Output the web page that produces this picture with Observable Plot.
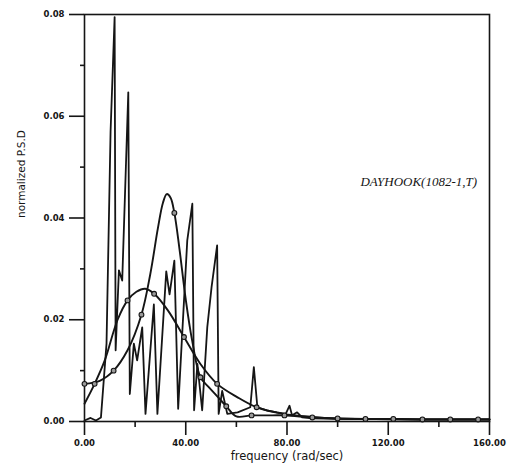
<!DOCTYPE html>
<html><head><meta charset="utf-8">
<script src="https://cdn.jsdelivr.net/npm/d3@7"></script>
<script src="https://cdn.jsdelivr.net/npm/@observablehq/plot@0.6"></script>
<style>body{margin:0;background:#fff}</style>
</head><body><div id="chart"></div>
<script>
// Raw (spiky) PSD
const spikyX = [0, 2.4, 4.5, 6.5, 8.7, 10.3, 11.9, 12.3, 13.6, 14.9, 17.3, 17.9, 19.5, 20.8, 22.8, 24.1, 27.4, 28.8, 32.3, 33.6, 35.5, 37.0, 40.6, 42.6, 43.3, 44.6, 46.5, 48.5, 50.2, 52.4, 53.0, 54.4, 56.4, 60.5, 65.5, 66.9, 68.3, 72.0, 76.0, 79.5, 81.0, 82.0, 84.0, 86.0, 90, 100, 110, 120, 130, 140, 150, 160];
const spikyY = [0.0002, 0.0007, 0.0002, 0.0008, 0.0153, 0.057, 0.0795, 0.014, 0.0297, 0.0277, 0.0647, 0.0054, 0.0153, 0.012, 0.0185, 0.0015, 0.023, 0.0015, 0.0295, 0.025, 0.0316, 0.0025, 0.0356, 0.0428, 0.0022, 0.0113, 0.0022, 0.0185, 0.0264, 0.0346, 0.0015, 0.006, 0.0015, 0.0018, 0.0028, 0.0107, 0.0028, 0.0022, 0.0018, 0.0015, 0.0031, 0.0012, 0.0018, 0.0008, 0.0006, 0.0005, 0.0005, 0.0004, 0.0004, 0.0004, 0.0004, 0.0004];

// Narrow fitted curve (peak ~0.045)
const narrowX = [0, 6, 11.5, 17, 22.5, 26, 29, 31, 32.5, 34, 35.5, 37.5, 40, 42.5, 45.8, 49, 52, 56, 60, 66, 72, 79, 90, 100, 111, 122, 133.5, 144.5, 155.5, 160];
const narrowY = [0.0074, 0.0080, 0.0100, 0.0140, 0.0210, 0.0290, 0.0380, 0.0430, 0.0447, 0.0440, 0.0410, 0.0340, 0.0240, 0.0160, 0.0087, 0.0068, 0.0052, 0.0030, 0.0010, 0.0012, 0.0012, 0.0012, 0.0008, 0.0006, 0.0005, 0.0005, 0.0004, 0.0004, 0.0004, 0.0004];
const narrowMarks = [0, 11.5, 22.5, 35.5, 45.8, 56, 66, 79, 90, 100, 111, 122, 133.5, 144.5, 155.5];

// Broad fitted curve (peak ~0.026)
const broadX = [0, 4, 8, 13, 17, 20.5, 24, 27.5, 33, 39.3, 45.8, 52.4, 60.3, 68, 78.6, 90, 100, 111, 122, 133.5, 144.5, 155.5, 160];
const broadY = [0.0035, 0.0074, 0.0120, 0.0199, 0.0238, 0.0255, 0.0261, 0.0251, 0.0218, 0.0166, 0.0113, 0.0074, 0.0048, 0.0028, 0.0015, 0.0009, 0.0006, 0.0005, 0.0005, 0.0004, 0.0004, 0.0004, 0.0004];
const broadMarks = [4, 17, 27.5, 39.3, 52.4, 68];

const xMajor = [0, 40, 80, 120, 160];
const xMinor = [20, 60, 100, 140];
const yMajor = [0, 0.02, 0.04, 0.06, 0.08];
const yMinor = [0.01, 0.03, 0.05, 0.07];

const xLabel = "frequency (rad/sec)";
const yLabel = "normalized P.S.D";
const note = [{x: 109, y: 0.0472, text: "DAYHOOK(1082-1,T)"}];

const zip = (xs, ys) => xs.map((x, i) => ({x, y: ys[i]}));
const spiky = zip(spikyX, spikyY);
const narrow = zip(narrowX, narrowY);
const broad = zip(broadX, broadY);
const narrowDots = narrow.filter(d => narrowMarks.includes(d.x));
const broadDots = broad.filter(d => broadMarks.includes(d.x));

const ink = "#151515";
const tickFont = {fontFamily: "DejaVu Sans", fontWeight: "bold", fontSize: 8.5};

const plot = Plot.plot({
  width: 508, height: 473,
  marginLeft: 84, marginRight: 19, marginTop: 14, marginBottom: 52,
  x: {domain: [0, 160]},
  y: {domain: [0, 0.08]},
  style: {fontFamily: "DejaVu Sans", background: "#fff", color: ink},
  marks: [
    Plot.axisX(xMajor, {tickSize: 14, tickPadding: 4, tickFormat: d3.format(".2f"), label: null, color: ink, strokeWidth: 1.6, ...tickFont}),
    Plot.axisX(xMinor, {tickSize: 6, tickFormat: () => "", label: null, color: ink, strokeWidth: 1.6}),
    Plot.axisY(yMajor, {tickSize: 15, tickPadding: 5, tickFormat: d3.format(".2f"), label: null, color: ink, strokeWidth: 1.6, ...tickFont}),
    Plot.axisY(yMinor, {tickSize: 4, tickFormat: () => "", label: null, color: ink, strokeWidth: 1.6}),
    Plot.frame({stroke: ink, strokeWidth: 1.6}),
    Plot.line(spiky, {x: "x", y: "y", stroke: ink, strokeWidth: 1.8}),
    Plot.line(narrow, {x: "x", y: "y", curve: "catmull-rom", stroke: ink, strokeWidth: 1.9}),
    Plot.line(broad, {x: "x", y: "y", curve: "catmull-rom", stroke: ink, strokeWidth: 1.9}),
    Plot.dot(narrowDots, {x: "x", y: "y", r: 2.4, fill: "#9a9a9a", stroke: ink, strokeWidth: 1.1}),
    Plot.dot(broadDots, {x: "x", y: "y", r: 2.4, fill: "#9a9a9a", stroke: ink, strokeWidth: 1.1}),
    Plot.text(note, {x: "x", y: "y", text: "text", textAnchor: "start", fontFamily: "Liberation Serif", fontStyle: "italic", fontSize: 13, fill: ink}),
    Plot.text([xLabel], {frameAnchor: "bottom", dy: 38, fontSize: 11.5, fill: ink}),
    Plot.text([yLabel], {frameAnchor: "left", dx: -63, rotate: -90, fontSize: 10.5, fill: ink})
  ]
});
document.getElementById("chart").append(plot);
</script>
</body></html>
